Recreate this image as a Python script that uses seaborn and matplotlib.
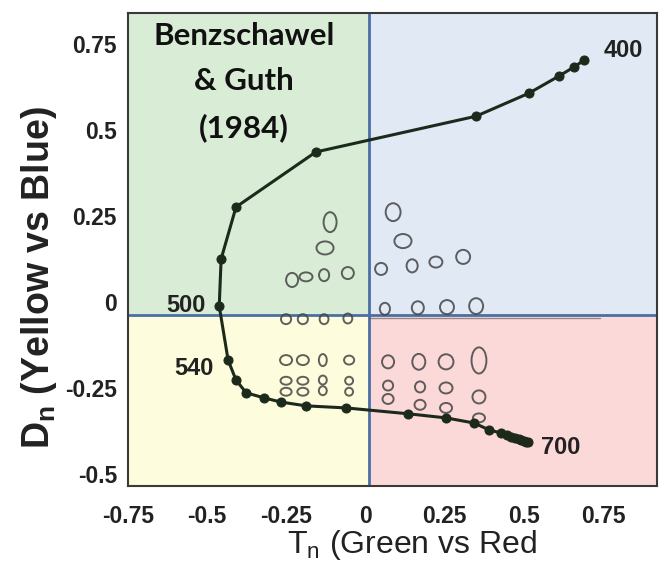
import matplotlib
matplotlib.use("Agg")
import matplotlib.pyplot as plt
from matplotlib.patches import Ellipse, Rectangle
import pandas as pd
import seaborn as sns

# spectral locus, 400 nm -> 700 nm
locus_t = [0.690, 0.658, 0.611, 0.516, 0.349, -0.157, -0.409, -0.456, -0.462,
           -0.434, -0.409, -0.377, -0.320, -0.267, -0.188, -0.062, 0.134, 0.254,
           0.343, 0.390, 0.428, 0.445, 0.460, 0.472, 0.483, 0.492, 0.500, 0.507, 0.513]
locus_d = [0.703, 0.683, 0.657, 0.607, 0.540, 0.436, 0.276, 0.125, -0.012,
           -0.169, -0.227, -0.264, -0.279, -0.291, -0.302, -0.308, -0.325, -0.337,
           -0.352, -0.372, -0.381, -0.387, -0.392, -0.396, -0.399, -0.402, -0.404, -0.406, -0.407]

wl_labels = ["400", "500", "540", "700"]
wl_t = [0.813, -0.567, -0.542, 0.617]
wl_d = [0.732, -0.009, -0.192, -0.424]

# discrimination ellipses: centre, width, height (data units)
ell_t = [-0.112, -0.128, -0.232, -0.188, -0.131, -0.056,
         -0.251, -0.198, -0.131, -0.056,
         -0.251, -0.198, -0.135, -0.052,
         -0.251, -0.198, -0.135, -0.052,
         -0.251, -0.198, -0.135, -0.052,
         0.087, 0.118, 0.049, 0.147, 0.222, 0.308,
         0.061, 0.165, 0.257, 0.349,
         0.071, 0.168, 0.254, 0.358,
         0.071, 0.172, 0.254, 0.358,
         0.071, 0.172, 0.254, 0.358]
ell_d = [0.232, 0.157, 0.064, 0.073, 0.078, 0.084,
         -0.050, -0.050, -0.050, -0.048,
         -0.169, -0.169, -0.169, -0.169,
         -0.229, -0.229, -0.227, -0.229,
         -0.261, -0.261, -0.258, -0.261,
         0.261, 0.177, 0.096, 0.105, 0.116, 0.131,
         -0.020, -0.017, -0.015, -0.012,
         -0.174, -0.174, -0.174, -0.170,
         -0.243, -0.247, -0.250, -0.276,
         -0.282, -0.299, -0.308, -0.337]
ell_w = [0.041, 0.054, 0.038, 0.041, 0.032, 0.038,
         0.032, 0.032, 0.028, 0.028,
         0.038, 0.038, 0.025, 0.032,
         0.035, 0.035, 0.025, 0.025,
         0.035, 0.035, 0.025, 0.025,
         0.047, 0.054, 0.038, 0.035, 0.041, 0.044,
         0.032, 0.038, 0.044, 0.044,
         0.038, 0.041, 0.047, 0.047,
         0.032, 0.032, 0.041, 0.041,
         0.035, 0.035, 0.038, 0.038]
ell_h = [0.058, 0.038, 0.041, 0.026, 0.035, 0.035,
         0.029, 0.029, 0.029, 0.029,
         0.029, 0.029, 0.035, 0.026,
         0.023, 0.023, 0.026, 0.023,
         0.023, 0.023, 0.026, 0.023,
         0.052, 0.041, 0.035, 0.038, 0.032, 0.041,
         0.035, 0.038, 0.041, 0.046,
         0.038, 0.046, 0.044, 0.076,
         0.029, 0.032, 0.032, 0.038,
         0.029, 0.029, 0.029, 0.026]

XLIM = (-0.75, 0.92)
YLIM = (-0.535, 0.84)
T0, D0 = 0.01, -0.038

sns.set_style("white")
plt.rcParams["font.family"] = ["Liberation Sans", "DejaVu Sans"]
plt.rcParams["mathtext.fontset"] = "custom"
plt.rcParams["mathtext.rm"] = "Liberation Sans"
plt.rcParams["mathtext.bf"] = "Liberation Sans:bold"

fig = plt.figure(figsize=(6.62, 5.66), dpi=100)
ax = fig.add_axes([128 / 662, 1 - 486 / 566, 529 / 662, 473 / 566])

# quadrant backgrounds
quads = [((XLIM[0], D0), T0 - XLIM[0], YLIM[1] - D0, "#d9ecd6"),
         ((T0, D0), XLIM[1] - T0, YLIM[1] - D0, "#e1e9f5"),
         ((XLIM[0], YLIM[0]), T0 - XLIM[0], D0 - YLIM[0], "#fdfcdc"),
         ((T0, YLIM[0]), XLIM[1] - T0, D0 - YLIM[0], "#fcd9d9")]
for xy, w, h, c in quads:
    ax.add_patch(Rectangle(xy, w, h, facecolor=c, edgecolor="none", zorder=0))
ax.axvline(T0, color="#4a6fa5", lw=2, zorder=1)
ax.axhline(D0, color="#4a6fa5", lw=2, zorder=1)
ax.plot([T0, 0.74], [-0.046, -0.046], color="#555555", lw=1, alpha=0.6, zorder=1)

for t, d, w, h in zip(ell_t, ell_d, ell_w, ell_h):
    ax.add_patch(Ellipse((t, d), w, h, facecolor="none", edgecolor="#454545",
                         lw=1.4, alpha=0.85, zorder=2))

locus = pd.DataFrame({"t": locus_t, "d": locus_d})
sns.lineplot(data=locus, x="t", y="d", sort=False, estimator=None, ax=ax,
             color="#1c2a1c", lw=2.2, marker="o", markersize=6.5,
             markeredgecolor="#1c2a1c", zorder=3)

for lab, t, d in zip(wl_labels, wl_t, wl_d):
    ax.text(t, d, lab, fontsize=17, fontweight="bold", color="#222222",
            ha="center", va="center", zorder=4)

ax.text(-0.384, 0.639, "Benzschawel\n& Guth\n(1984)", family=["Lato", "DejaVu Sans"],
        fontsize=22.5, fontweight="bold", color="#111111", ha="center", va="center",
        linespacing=1.75, zorder=4)

ax.set_xlim(XLIM)
ax.set_ylim(YLIM)
xt = [-0.75, -0.5, -0.25, 0, 0.25, 0.5, 0.75]
yt = [-0.5, -0.25, 0, 0.25, 0.5, 0.75]
ax.set_xticks(xt)
ax.set_xticklabels(["-0.75", "-0.5", "-0.25", "0", "0.25", "0.5", "0.75"])
ax.set_yticks(yt)
ax.set_yticklabels(["-0.5", "-0.25", "0", "0.25", "0.5", "0.75"])
ax.tick_params(axis="both", length=0, labelsize=16.5, labelcolor="#222222")
ax.tick_params(axis="x", pad=14)
ax.tick_params(axis="y", pad=8)
for lab in ax.get_xticklabels() + ax.get_yticklabels():
    lab.set_fontweight("bold")
for sp in ax.spines.values():
    sp.set_visible(True)
    sp.set_color("#3a3a3a")
    sp.set_linewidth(1.5)

ax.set_xlabel(r"T$_\mathregular{n}$ (Green vs Red", fontsize=23, color="#222222")
ax.xaxis.set_label_coords(0.537, -0.088)
ax.set_ylabel(r"D$_\mathbf{n}$ (Yellow vs Blue)", fontsize=27, fontweight="bold",
              color="#222222")
ax.yaxis.set_label_coords(-0.13, 0.44)

fig.savefig("out.png", dpi=100)
